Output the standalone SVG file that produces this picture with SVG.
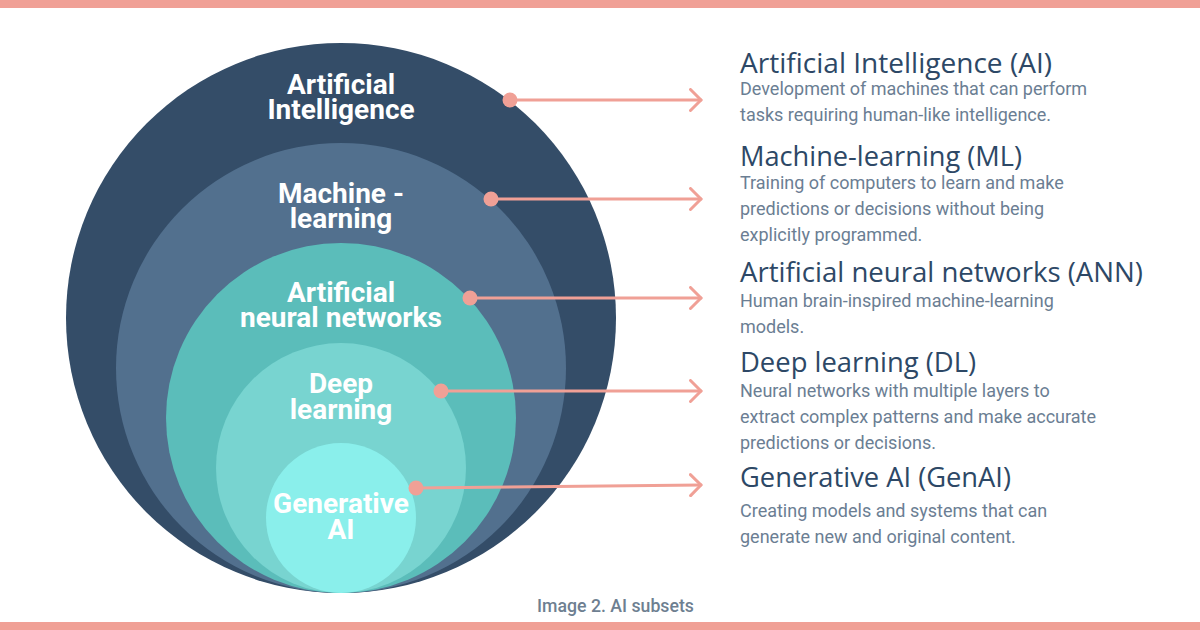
<svg xmlns="http://www.w3.org/2000/svg" width="1200" height="630" viewBox="0 0 1200 630">
  <defs>
    <style>
      .lbl { font-family: Roboto, "Liberation Sans", sans-serif; font-weight: 700; font-size: 28px; fill: #ffffff; text-anchor: middle; }
      .ttl { font-family: "Open Sans", "Noto Sans", sans-serif; font-weight: 400; font-size: 28px; fill: #2D4866; }
      .dsc { font-family: Roboto, "Liberation Sans", sans-serif; font-weight: 400; font-size: 18px; fill: #6B7E93; }
      .cap { font-family: Roboto, "Liberation Sans", sans-serif; font-weight: 500; font-size: 17.7px; fill: #6E7F91; text-anchor: middle; }
      .con { stroke: #F0A096; stroke-width: 3; fill: none; stroke-linecap: round; stroke-linejoin: round; }
      .dot { fill: #F0A096; }
    </style>
    <marker id="chev" viewBox="0 0 14 24" refX="12" refY="12" markerWidth="14" markerHeight="24" markerUnits="userSpaceOnUse" orient="auto">
      <path d="M1.5,1.5 L12,12 L1.5,22.5" fill="none" stroke="#F0A096" stroke-width="3" stroke-linecap="round" stroke-linejoin="round"/>
    </marker>
  </defs>

  <rect x="0" y="0" width="1200" height="630" fill="#ffffff"/>
  <rect x="0" y="0" width="1200" height="8" fill="#F0A096"/>
  <rect x="0" y="622" width="1200" height="8" fill="#F0A096"/>

  <g id="node-ai">
    <circle cx="341" cy="318" r="275" fill="#344D68"/>
    <text class="lbl" x="341" y="94">Artificial</text>
    <text class="lbl" x="341" y="119">Intelligence</text>
  </g>
  <g id="node-ml">
    <circle cx="341" cy="368" r="225" fill="#52708E"/>
    <text class="lbl" x="341" y="203">Machine -</text>
    <text class="lbl" x="341" y="228">learning</text>
  </g>
  <g id="node-ann">
    <circle cx="341" cy="418" r="175" fill="#5BBDBA"/>
    <text class="lbl" x="341" y="302">Artificial</text>
    <text class="lbl" x="341" y="327">neural networks</text>
  </g>
  <g id="node-dl">
    <circle cx="341" cy="468" r="125" fill="#78D4D0"/>
    <text class="lbl" x="341" y="393">Deep</text>
    <text class="lbl" x="341" y="419">learning</text>
  </g>
  <g id="node-genai">
    <circle cx="341" cy="518" r="75" fill="#8AEFEB"/>
    <text class="lbl" x="341" y="513">Generative</text>
    <text class="lbl" x="341" y="539">AI</text>
  </g>

  <g id="connectors">
    <line class="con" x1="510" y1="100" x2="701" y2="100" marker-end="url(#chev)"/>
    <circle class="dot" cx="510" cy="100" r="7.5"/>
    <line class="con" x1="491" y1="199" x2="701" y2="199" marker-end="url(#chev)"/>
    <circle class="dot" cx="491" cy="199" r="7.5"/>
    <line class="con" x1="470" y1="298" x2="701" y2="298" marker-end="url(#chev)"/>
    <circle class="dot" cx="470" cy="298" r="7.5"/>
    <line class="con" x1="441" y1="391" x2="701" y2="391" marker-end="url(#chev)"/>
    <circle class="dot" cx="441" cy="391" r="7.5"/>
    <line class="con" x1="416" y1="488" x2="701" y2="485" marker-end="url(#chev)"/>
    <circle class="dot" cx="416" cy="488" r="7.5"/>
  </g>

  <g id="desc-ai">
    <text class="ttl" x="740" y="73" textLength="312" lengthAdjust="spacingAndGlyphs">Artificial Intelligence (AI)</text>
    <text class="dsc" x="740" y="95">Development of machines that can perform</text>
    <text class="dsc" x="740" y="121">tasks requiring human-like intelligence.</text>
  </g>
  <g id="desc-ml">
    <text class="ttl" x="740" y="166" textLength="282" lengthAdjust="spacingAndGlyphs">Machine-learning (ML)</text>
    <text class="dsc" x="740" y="189">Training of computers to learn and make</text>
    <text class="dsc" x="740" y="215">predictions or decisions without being</text>
    <text class="dsc" x="740" y="241">explicitly programmed.</text>
  </g>
  <g id="desc-ann">
    <text class="ttl" x="740" y="282" textLength="403" lengthAdjust="spacingAndGlyphs">Artificial neural networks (ANN)</text>
    <text class="dsc" x="740" y="307">Human brain-inspired machine-learning</text>
    <text class="dsc" x="740" y="333">models.</text>
  </g>
  <g id="desc-dl">
    <text class="ttl" x="740" y="372" textLength="236" lengthAdjust="spacingAndGlyphs">Deep learning (DL)</text>
    <text class="dsc" x="740" y="397">Neural networks with multiple layers to</text>
    <text class="dsc" x="740" y="423">extract complex patterns and make accurate</text>
    <text class="dsc" x="740" y="449">predictions or decisions.</text>
  </g>
  <g id="desc-genai">
    <text class="ttl" x="740" y="487" textLength="271" lengthAdjust="spacingAndGlyphs">Generative AI (GenAI)</text>
    <text class="dsc" x="740" y="517">Creating models and systems that can</text>
    <text class="dsc" x="740" y="543">generate new and original content.</text>
  </g>

  <text class="cap" x="615.5" y="612">Image 2. AI subsets</text>
</svg>
